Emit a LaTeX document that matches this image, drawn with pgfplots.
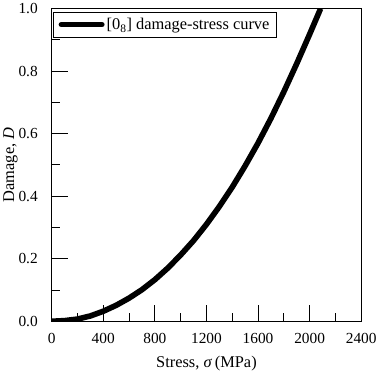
\documentclass[border=0pt]{standalone}
\usepackage{pgfplots}
\pgfplotsset{compat=1.18}
\usepackage{fontspec}
\setmainfont{Liberation Serif}
\begin{document}
\begin{tikzpicture}
\begin{axis}[
  scale only axis,
  width=301bp, height=304bp,
  xmin=0, xmax=2400, ymin=0, ymax=1.0,
  xtick={0,400,...,2400},
  ytick={0,0.2,...,1.0},
  minor x tick num=1, minor y tick num=1,
  tick align=inside,
  xtick pos=bottom, ytick pos=left,
  major tick length=16bp, minor tick length=8bp,
  every tick/.style={black, line width=0.9pt},
  axis line style={line width=1.2pt},
  /pgf/number format/assume math mode=true,
  tick label style={font=\fontsize{15}{17}\selectfont},
  label style={font=\fontsize{16}{18}\selectfont},
  xticklabel style={/pgf/number format/1000 sep={}, yshift=-8bp},
  yticklabel style={/pgf/number format/fixed, /pgf/number format/fixed zerofill, /pgf/number format/precision=1, xshift=-10bp},
  xlabel={Stress, \textit{σ}\,(MPa)},
  ylabel={Damage, \textit{D}},
  xlabel style={yshift=-5bp},
  ylabel style={yshift=-6bp},
  legend style={at={(0.005,0.99)}, anchor=north west, draw=black, line width=0.6pt,
    font=\fontsize{16}{18}\selectfont, inner xsep=5pt, inner ysep=4pt,
    legend cell align=left},
  legend image code/.code={\draw[#1, line width=5pt, line cap=round] (0cm,0cm) -- (1.4cm,0cm);},
]
\addplot[black, line width=5.5pt, line join=round] coordinates {
 (0,0) (100,0.002) (200,0.007) (300,0.017) (400,0.032) (500,0.051)
 (600,0.074) (700,0.101) (800,0.133) (900,0.170) (1000,0.212)
 (1100,0.258) (1200,0.310) (1300,0.367) (1400,0.429) (1500,0.497)
 (1600,0.570) (1700,0.649) (1800,0.734) (1900,0.824) (2000,0.918) (2085,1.0)
};
\addlegendentry{[0\textsubscript{8}] damage-stress curve}
\end{axis}
\end{tikzpicture}
\end{document}
